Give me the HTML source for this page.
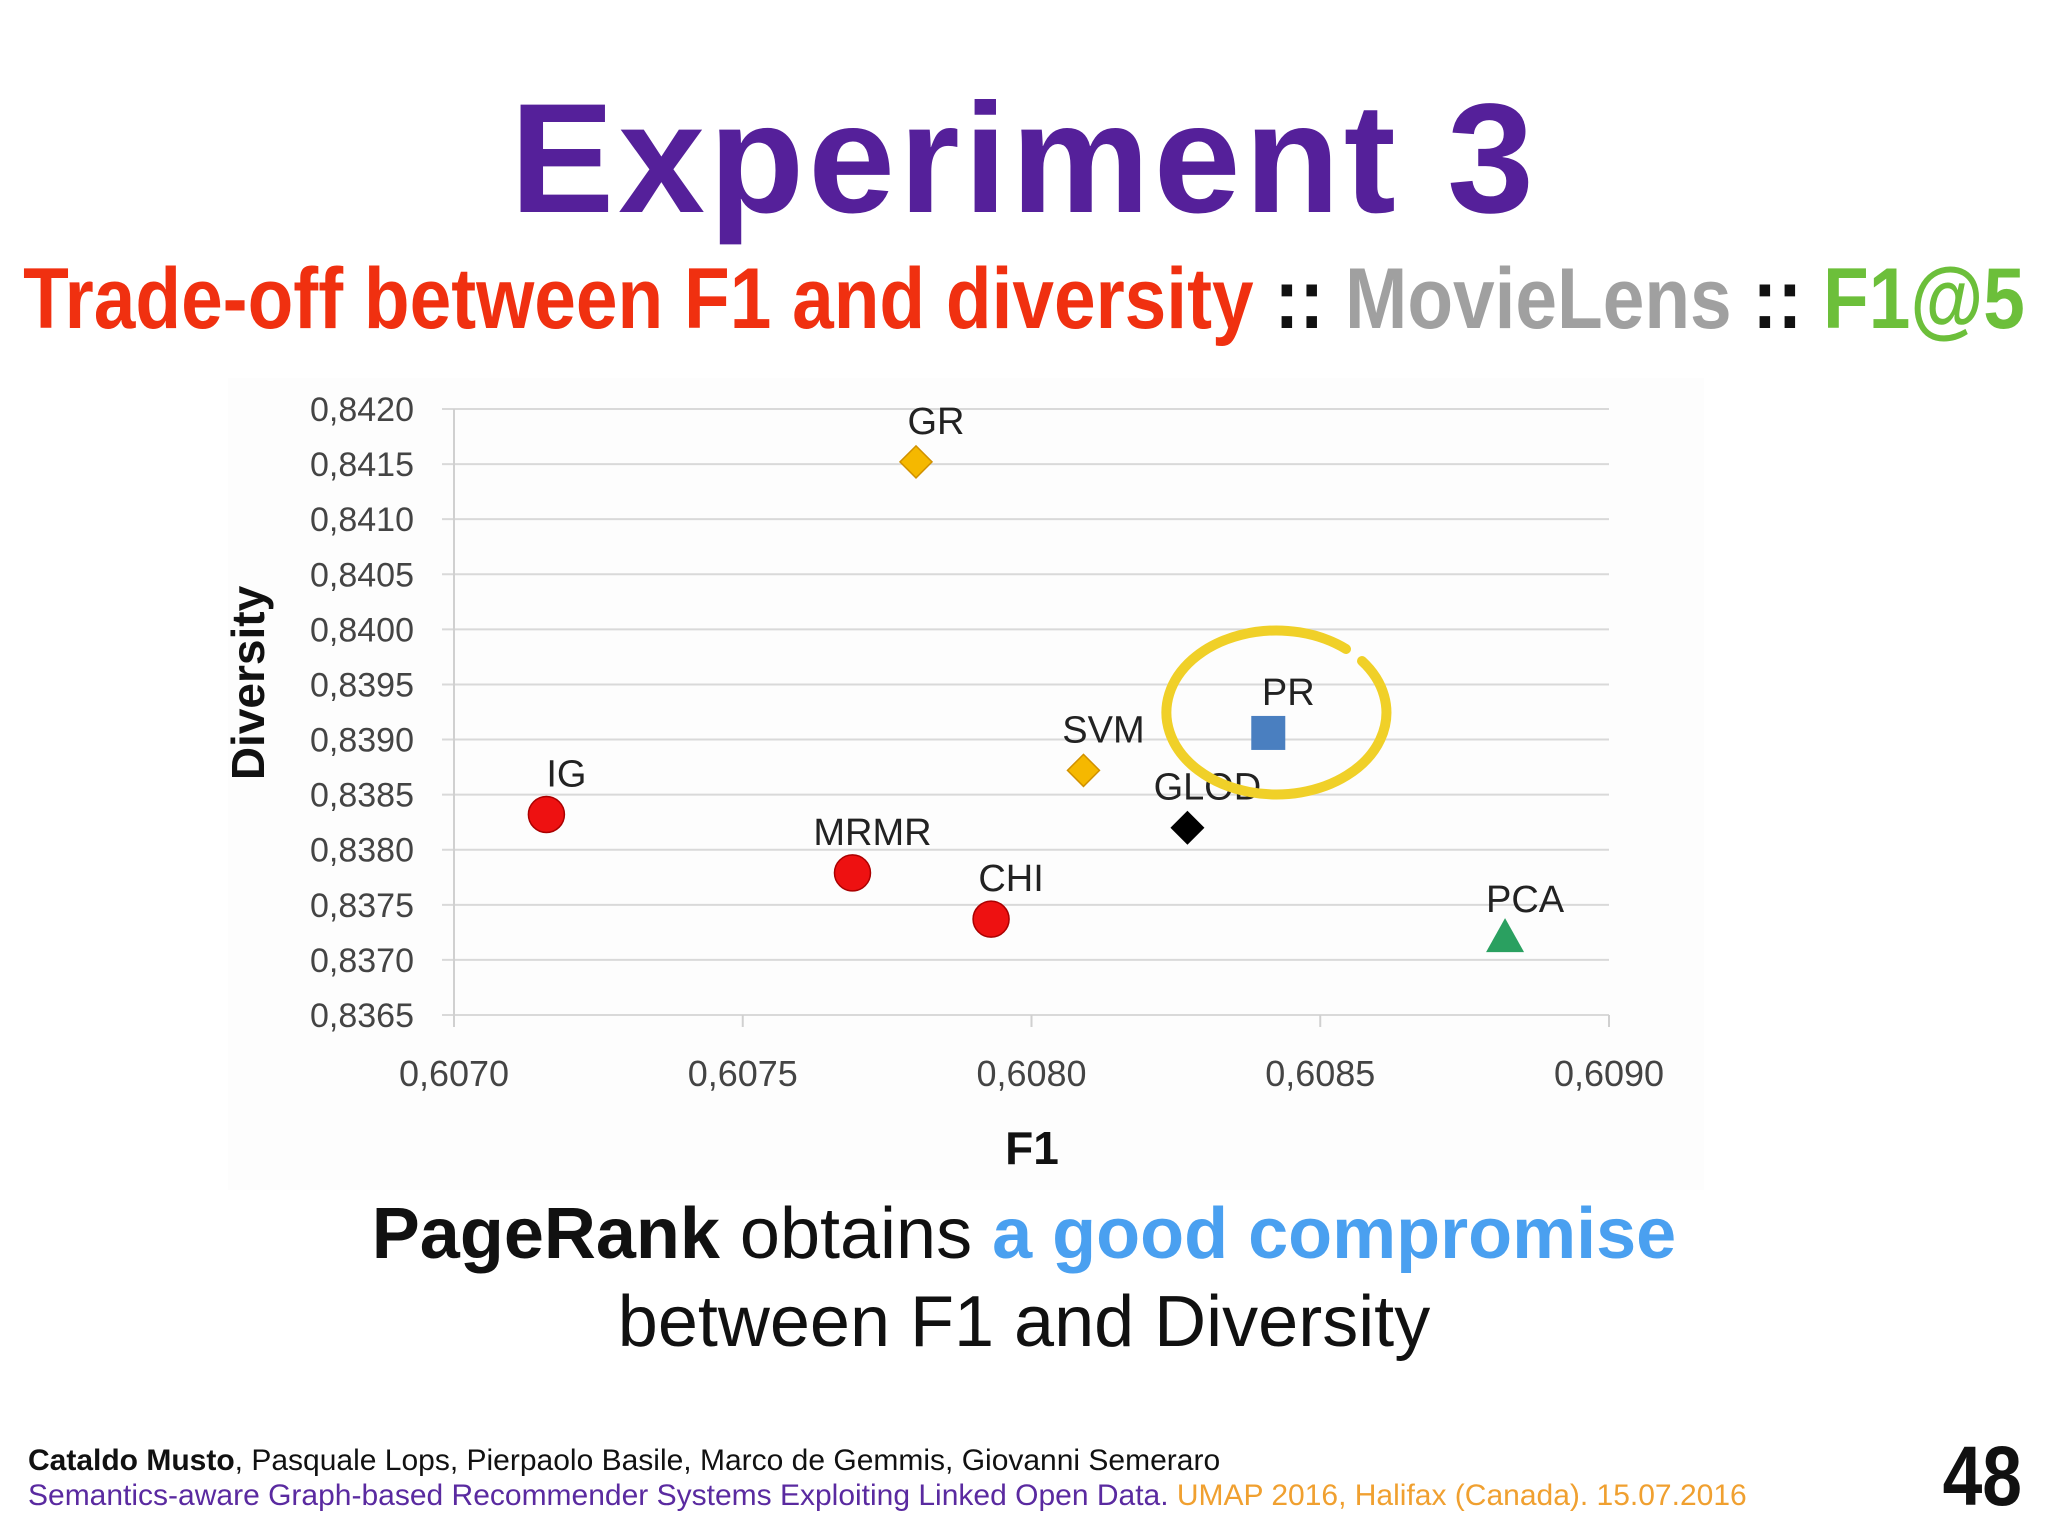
<!DOCTYPE html>
<html><head><meta charset="utf-8"><style>
html,body{margin:0;padding:0;background:#fff;}
svg{display:block;}
</style></head><body>
<svg width="2048" height="1536" viewBox="0 0 2048 1536" xmlns="http://www.w3.org/2000/svg" font-family="Liberation Sans, sans-serif">
<rect width="2048" height="1536" fill="#fff"/>
<text x="1024" y="212" text-anchor="middle" font-size="156" font-weight="bold" letter-spacing="4" fill="#55209a">Experiment 3</text>
<g transform="translate(1024,328) scale(0.87,1)">
<text x="0" y="0" text-anchor="middle" font-size="86" font-weight="bold"><tspan fill="#f03010">Trade-off between F1 and diversity</tspan><tspan fill="#111"> :: </tspan><tspan fill="#a0a0a0">MovieLens</tspan><tspan fill="#111"> :: </tspan><tspan fill="#6cbf3a">F1@5</tspan></text>
</g>
<rect x="228" y="378" width="1476" height="812" fill="#fdfdfd"/>
<g id="chart"></g>
<text x="1024" y="1258" text-anchor="middle" font-size="72" fill="#111"><tspan font-weight="bold">PageRank</tspan> obtains <tspan font-weight="bold" fill="#4aa0f0">a good compromise</tspan></text>
<text x="1024" y="1346" text-anchor="middle" font-size="72" fill="#111">between F1 and Diversity</text>
<text x="28" y="1470" font-size="30" fill="#111"><tspan font-weight="bold">Cataldo Musto</tspan>, Pasquale Lops, Pierpaolo Basile, Marco de Gemmis, Giovanni Semeraro</text>
<text x="28" y="1505" font-size="30" fill="#5a2aa0">Semantics-aware Graph-based Recommender Systems Exploiting Linked Open Data. <tspan fill="#f0a030">UMAP 2016, Halifax (Canada). 15.07.2016</tspan></text>
<text transform="translate(2022,1505) scale(0.85,1)" text-anchor="end" font-size="84" font-weight="bold" fill="#111">48</text>
</svg>
<script>
const names = ["IG","MRMR","CHI","GR","SVM","GLOD","PR","PCA"];
const f1Values = [0.60716,0.60769,0.60793,0.60780,0.60809,0.60827,0.60841,0.60882];
const diversityValues = [0.83832,0.83779,0.83737,0.84152,0.83872,0.83820,0.83906,0.83718];
const yTicks = [0.8365,0.8370,0.8375,0.8380,0.8385,0.8390,0.8395,0.8400,0.8405,0.8410,0.8415,0.8420];
const xTicks = [0.6070,0.6075,0.6080,0.6085,0.6090];

const NS="http://www.w3.org/2000/svg";
const g=document.getElementById('chart');
const X0=454,X1=1609,Y0=1015,Y1=409;
const xs=v=>X0+(v-0.6070)/(0.6090-0.6070)*(X1-X0);
const ys=v=>Y0-(v-0.8365)/(0.8420-0.8365)*(Y0-Y1);
function mk(t,a){const e=document.createElementNS(NS,t);for(const k in a)e.setAttribute(k,a[k]);g.appendChild(e);return e;}
const fmt=v=>v.toFixed(4).replace('.',',');
yTicks.forEach(v=>{
  const y=ys(v);
  const l=mk('line',{x1:X0-12,x2:X1,y1:y,y2:y,stroke:'#d9d9d9','stroke-width':2});
  
  
  const t=mk('text',{x:X0-40,y:y+12,'text-anchor':'end','font-size':34,fill:'#444'});
  t.textContent=fmt(v);
  
  
});
const ax=mk('line',{x1:X0,x2:X0,y1:Y1,y2:Y0,stroke:'#d0d0d0','stroke-width':2});


xTicks.forEach(v=>{
  const x=xs(v);
  const l=mk('line',{x1:x,x2:x,y1:Y0,y2:Y0+12,stroke:'#d0d0d0','stroke-width':2});
  
  
  const t=mk('text',{x:x,y:1086,'text-anchor':'middle','font-size':36,fill:'#444'});
  t.textContent=fmt(v);
  
  
});
const yt=mk('text',{transform:'translate(264,683) rotate(-90)','text-anchor':'middle','font-size':46,'font-weight':'bold',fill:'#111'});
yt.textContent='Diversity';


const xt=mk('text',{x:1032,y:1164,'text-anchor':'middle','font-size':46,'font-weight':'bold',fill:'#111'});
xt.textContent='F1';



names.forEach((n,i)=>{
  const x=xs(f1Values[i]),y=ys(diversityValues[i]);
  let m;
  if(['IG','MRMR','CHI'].includes(n)) m=mk('circle',{cx:x,cy:y,r:18,fill:'#ee1111',stroke:'#a00','stroke-width':1.5});
  else if(n==='GR'||n==='SVM') m=mk('polygon',{points:`${x},${y-16} ${x+16},${y} ${x},${y+16} ${x-16},${y}`,fill:'#f5b800',stroke:'#d09000','stroke-width':1.5});
  else if(n==='GLOD') m=mk('polygon',{points:`${x},${y-17} ${x+17},${y} ${x},${y+17} ${x-17},${y}`,fill:'#000'});
  else if(n==='PR') m=mk('rect',{x:x-17,y:y-17,width:34,height:34,fill:'#4a7fc0'});
  else m=mk('polygon',{points:`${x},${y-22} ${x+19},${y+12} ${x-19},${y+12}`,fill:'#2aa060'});
  
  
  const t=mk('text',{x:x+20,y:y-28,'text-anchor':'middle','font-size':38,fill:'#222'});
  t.textContent=n;
  
  
});
const ell=mk('path',{d:'M1362,661 A110,82 0 1 1 1346,649',fill:'none',stroke:'#f0d028','stroke-width':10,'stroke-linecap':'round'});


</script>
</body></html>
